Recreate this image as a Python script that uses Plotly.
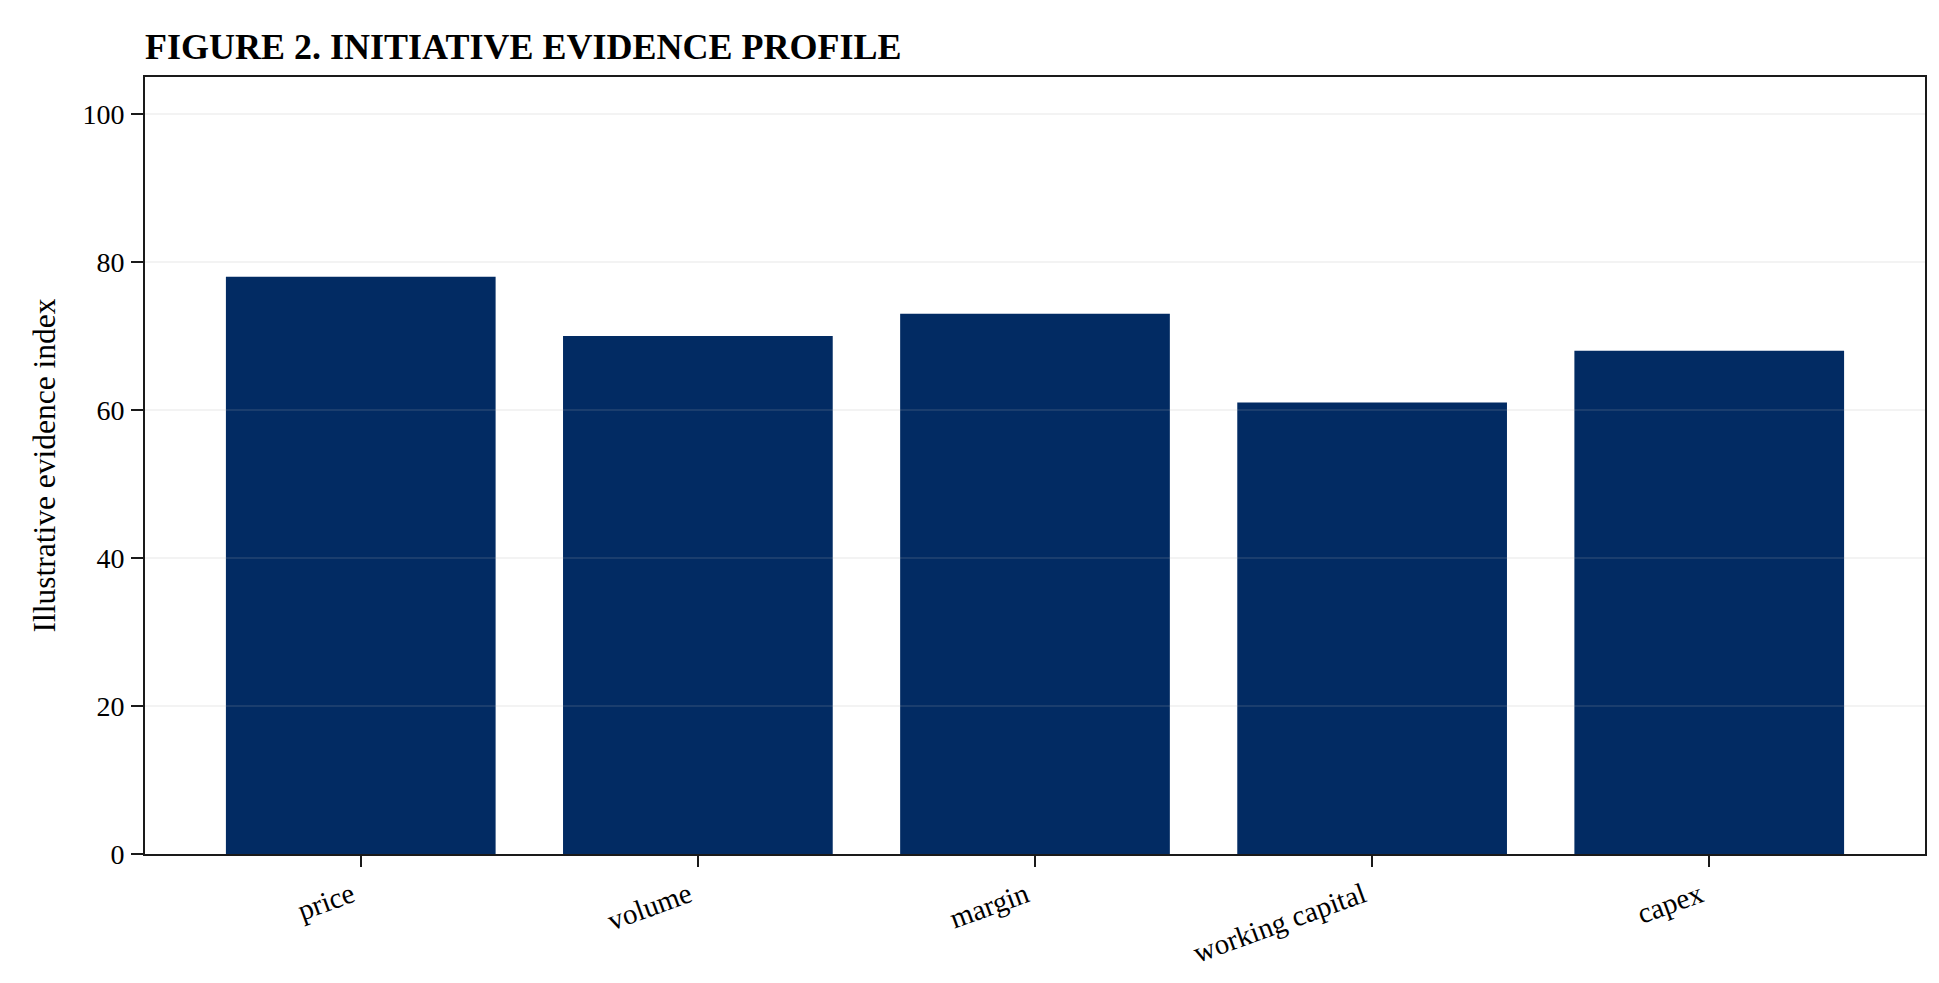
import plotly.graph_objects as go

categories = ["price", "volume", "margin", "working capital", "capex"]
evidence_index = [78, 70, 73, 61, 68]
y_ticks = [0, 20, 40, 60, 80, 100]

NAVY = "#022b63"
SERIF = "Liberation Serif, Times New Roman, serif"

fig = go.Figure()
fig.add_trace(go.Bar(x=categories, y=evidence_index, marker_color=NAVY,
                     marker_line_width=0, showlegend=False))

# matplotlib style grid drawn on top of the bars
for v in y_ticks[1:]:
    fig.add_shape(type="line", xref="paper", x0=0, x1=1, yref="y", y0=v, y1=v,
                  line=dict(color="rgba(176,176,176,0.2)", width=1.5), layer="above")

fig.update_layout(
    width=1939, height=983,
    margin=dict(l=137, r=22, t=69, b=137),
    plot_bgcolor="white", paper_bgcolor="white",
    font=dict(family=SERIF, size=28, color="black"),
    bargap=0.2,
    title=dict(text="<b>FIGURE 2. INITIATIVE EVIDENCE PROFILE</b>",
               font=dict(family=SERIF, size=36, color="black"),
               xref="paper", x=0, xanchor="left",
               yref="container", y=1 - 38 / 983, yanchor="middle"),
)

fig.update_xaxes(range=[-0.64, 4.64], showline=True, mirror=True, linecolor="#1a1a1a",
                 linewidth=2, ticks="outside", ticklen=11, tickwidth=2, tickcolor="#1a1a1a",
                 tickangle=-20, tickfont=dict(size=29), showgrid=False, zeroline=False,
                 ticklabelstandoff=0, ticklabelshift=-9)
fig.update_yaxes(range=[0, 105], tickvals=y_ticks, showline=True, mirror=True,
                 linecolor="#1a1a1a", linewidth=2, ticks="outside", ticklen=12,
                 tickwidth=2, tickcolor="#1a1a1a", showgrid=False, zeroline=False,
                 ticklabelstandoff=1,
                 title=dict(text="Illustrative evidence index", font=dict(size=31.5), standoff=17))

fig.write_html("out.html")
